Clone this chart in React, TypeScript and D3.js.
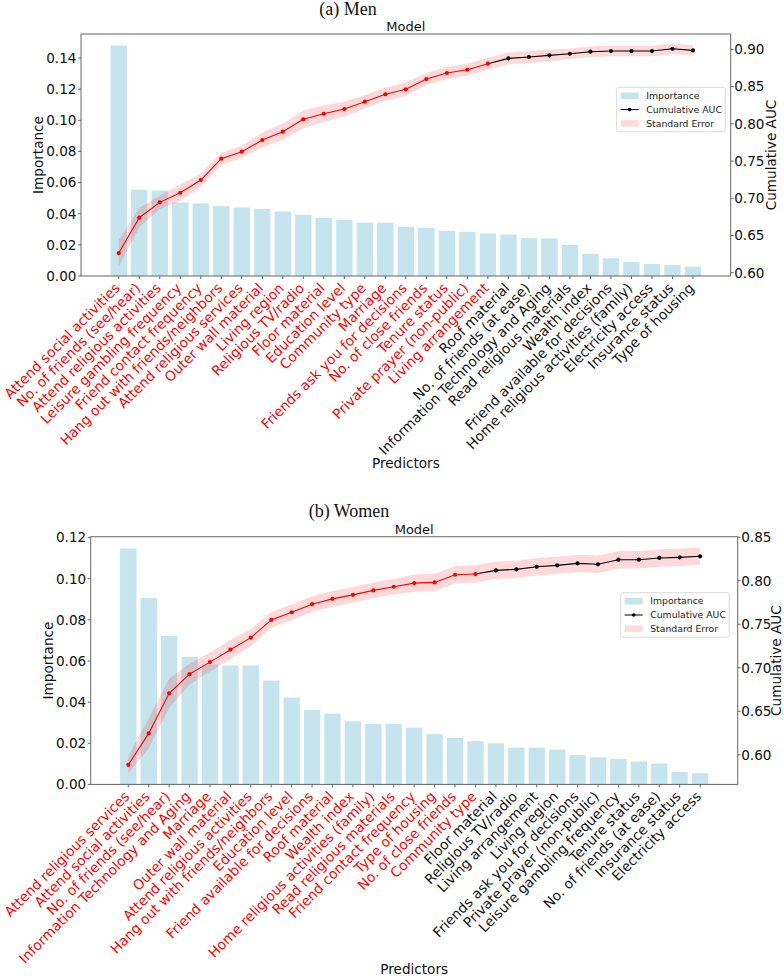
import React from "react";
import * as d3 from "d3";

// Men: predictors ordered by importance
const menPredictors = [
  "Attend social activities",
  "No. of friends (see/hear)",
  "Attend religious activities",
  "Leisure gambling frequency",
  "Friend contact frequency",
  "Hang out with friends/neighbors",
  "Attend religious services",
  "Outer wall material",
  "Living region",
  "Religious TV/radio",
  "Floor material",
  "Education level",
  "Community type",
  "Marriage",
  "Friends ask you for decisions",
  "No. of close friends",
  "Tenure status",
  "Private prayer (non-public)",
  "Living arrangement",
  "Roof material",
  "No. of friends (at ease)",
  "Information Technology and Aging",
  "Read religious materials",
  "Wealth index",
  "Friend available for decisions",
  "Home religious activities (family)",
  "Electricity access",
  "Insurance status",
  "Type of housing",
];
const menImportance = [
  0.148, 0.0554, 0.0549, 0.0472, 0.0466, 0.0449, 0.044, 0.043, 0.0414, 0.0393,
  0.0372, 0.0361, 0.0343, 0.0343, 0.0316, 0.0309, 0.029, 0.0284, 0.0273, 0.0266,
  0.0243, 0.0241, 0.02, 0.0142, 0.0114, 0.009, 0.0077, 0.0071, 0.006,
];
const menAuc = [
  0.6264, 0.6739, 0.6945, 0.7074, 0.7245, 0.7531, 0.7625, 0.7782, 0.7894, 0.806,
  0.8135, 0.8198, 0.8297, 0.8396, 0.8463, 0.8601, 0.8682, 0.8726, 0.8807, 0.8879,
  0.8897, 0.8919, 0.8941, 0.8968, 0.8977, 0.8977, 0.8977, 0.9008, 0.8986,
];
const menSe = [
  0.018, 0.013, 0.009, 0.011, 0.009, 0.008, 0.008, 0.01, 0.011, 0.012, 0.011,
  0.01, 0.009, 0.009, 0.009, 0.008, 0.008, 0.008, 0.008, 0.008, 0.008, 0.008,
  0.007, 0.007, 0.007, 0.007, 0.007, 0.007, 0.007,
];
const menSignificant = 19;

// Women: predictors ordered by importance
const womenPredictors = [
  "Attend religious services",
  "Attend social activities",
  "No. of friends (see/hear)",
  "Information Technology and Aging",
  "Marriage",
  "Outer wall material",
  "Attend religious activities",
  "Hang out with friends/neighbors",
  "Education level",
  "Friend available for decisions",
  "Roof material",
  "Wealth index",
  "Home religious activities (family)",
  "Read religious materials",
  "Friend contact frequency",
  "Type of housing",
  "No. of close friends",
  "Community type",
  "Floor material",
  "Religious TV/radio",
  "Living arrangement",
  "Living region",
  "Friends ask you for decisions",
  "Private prayer (non-public)",
  "Leisure gambling frequency",
  "Tenure status",
  "No. of friends (at ease)",
  "Insurance status",
  "Electricity access",
];
const womenImportance = [
  0.1147, 0.0906, 0.0722, 0.062, 0.0584, 0.0578, 0.0578, 0.0505, 0.0422, 0.0362,
  0.0344, 0.0307, 0.0294, 0.0294, 0.0276, 0.0244, 0.0226, 0.021, 0.02, 0.0179,
  0.0179, 0.0169, 0.0142, 0.0132, 0.0124, 0.0111, 0.0101, 0.006, 0.0054,
];
const womenAuc = [
  0.5885, 0.6246, 0.6707, 0.6927, 0.7065, 0.7208, 0.7346, 0.755, 0.7638, 0.7731,
  0.7792, 0.7838, 0.7889, 0.7931, 0.7973, 0.7981, 0.8069, 0.8077, 0.8119, 0.8131,
  0.8161, 0.8177, 0.82, 0.8189, 0.8242, 0.8242, 0.8262, 0.8269, 0.8281,
];
const womenSe = [
  0.01, 0.017, 0.017, 0.012, 0.011, 0.011, 0.01, 0.009, 0.009, 0.009, 0.009,
  0.009, 0.009, 0.009, 0.01, 0.01, 0.01, 0.01, 0.01, 0.01, 0.01, 0.01, 0.01,
  0.01, 0.01, 0.01, 0.01, 0.01, 0.01,
];
const womenSignificant = 18;

const menImportanceTicks = [0, 0.02, 0.04, 0.06, 0.08, 0.1, 0.12, 0.14];
const menAucTicks = [0.6, 0.65, 0.7, 0.75, 0.8, 0.85, 0.9];
const womenImportanceTicks = [0, 0.02, 0.04, 0.06, 0.08, 0.1, 0.12];
const womenAucTicks = [0.6, 0.65, 0.7, 0.75, 0.8, 0.85];

const SANS = "DejaVu Sans, sans-serif";
const SERIF = "Liberation Serif, Times New Roman, serif";
const SPINE = "#666";

type PanelProps = {
  title: string;
  predictors: string[];
  importance: number[];
  auc: number[];
  se: number[];
  significant: number;
  importanceTicks: number[];
  aucTicks: number[];
  aucDomain: [number, number];
  left: number;
  right: number;
  top: number;
  bottom: number;
  titleX: number;
  titleY: number;
  yLabelX: number;
  aucLabelX: number;
  xLabelY: number;
  legendX: number;
  legendY: number;
};

function Legend({ x, y }: { x: number; y: number }) {
  const rows = ["Importance", "Cumulative AUC", "Standard Error"];
  return (
    <g transform={`translate(${x},${y})`}>
      <rect
        width={108.5}
        height={44.5}
        rx={2}
        fill="#fff"
        fillOpacity={0.8}
        stroke="#d0d0d0"
        strokeWidth={0.8}
      />
      {rows.map((r, i) => {
        const cy = 8.5 + i * 13.8;
        return (
          <g key={r}>
            {i === 0 && (
              <rect x={4} y={cy - 3.3} width={18} height={6.6} fill="#add8e6" fillOpacity={0.7} />
            )}
            {i === 1 && (
              <g>
                <line x1={4} x2={22} y1={cy} y2={cy} stroke="#000" strokeWidth={1} />
                <circle cx={13} cy={cy} r={1.8} fill="#000" />
              </g>
            )}
            {i === 2 && (
              <rect x={4} y={cy - 3.3} width={18} height={6.6} fill="red" fillOpacity={0.15} />
            )}
            <text x={29.5} y={cy} dy="0.35em" fontFamily={SANS} fontSize={9.3} fill="#222">
              {r}
            </text>
          </g>
        );
      })}
    </g>
  );
}

function Panel(p: PanelProps) {
  const n = p.predictors.length;
  const x = d3.scaleLinear().domain([-1.84, n - 1 + 1.84]).range([p.left, p.right]);
  const yImp = d3
    .scaleLinear()
    .domain([0, (d3.max(p.importance) as number) * 1.05])
    .range([p.bottom, p.top]);
  const yAuc = d3.scaleLinear().domain(p.aucDomain).range([p.bottom, p.top]);
  const bw = x(0.4) - x(-0.4);

  const idx = d3.range(n);
  const band = d3
    .area<number>()
    .x((i) => x(i))
    .y0((i) => yAuc(p.auc[i] - p.se[i]))
    .y1((i) => yAuc(p.auc[i] + p.se[i]));
  const line = d3
    .line<number>()
    .x((i) => x(i))
    .y((i) => yAuc(p.auc[i]));
  const redIdx = idx.slice(0, p.significant);
  const blackIdx = idx.slice(p.significant - 1);
  const fmt = d3.format(".2f");
  const midX = (p.left + p.right) / 2;
  const midY = (p.top + p.bottom) / 2;

  return (
    <g>
      <text x={p.titleX} y={p.titleY} textAnchor="middle" fontFamily={SERIF} fontSize={18} fill="#111">
        {p.title}
      </text>
      <text x={midX} y={p.top - 3} textAnchor="middle" fontFamily={SANS} fontSize={13} fill="#111">
        Model
      </text>

      {/* importance bars */}
      {idx.map((i) => (
        <rect
          key={i}
          x={x(i) - bw / 2}
          y={yImp(p.importance[i])}
          width={bw}
          height={p.bottom - yImp(p.importance[i])}
          fill="#add8e6"
          fillOpacity={0.7}
        />
      ))}

      {/* cumulative AUC with standard error band */}
      <path d={band(idx) as string} fill="red" fillOpacity={0.15} />
      <path d={line(redIdx) as string} fill="none" stroke="red" strokeWidth={1.1} />
      <path d={line(blackIdx) as string} fill="none" stroke="#000" strokeWidth={1.1} />
      {idx.map((i) => (
        <circle
          key={i}
          cx={x(i)}
          cy={yAuc(p.auc[i])}
          r={2.1}
          fill={i < p.significant ? "red" : "#000"}
        />
      ))}

      {/* frame */}
      <rect
        x={p.left}
        y={p.top}
        width={p.right - p.left}
        height={p.bottom - p.top}
        fill="none"
        stroke={SPINE}
        strokeWidth={1}
      />

      {/* left axis */}
      {p.importanceTicks.map((t) => (
        <g key={t}>
          <line x1={p.left - 3} x2={p.left} y1={yImp(t)} y2={yImp(t)} stroke={SPINE} />
          <text
            x={p.left - 4.5}
            y={yImp(t)}
            dy="0.36em"
            textAnchor="end"
            fontFamily={SANS}
            fontSize={13.6}
            fill="#111"
          >
            {fmt(t)}
          </text>
        </g>
      ))}
      <text
        transform={`translate(${p.yLabelX},${midY}) rotate(-90)`}
        textAnchor="middle"
        dy="0.36em"
        fontFamily={SANS}
        fontSize={13.6}
        fill="#111"
      >
        Importance
      </text>

      {/* right axis */}
      {p.aucTicks.map((t) => (
        <g key={t}>
          <line x1={p.right} x2={p.right + 3} y1={yAuc(t)} y2={yAuc(t)} stroke={SPINE} />
          <text
            x={p.right + 3.5}
            y={yAuc(t)}
            dy="0.36em"
            fontFamily={SANS}
            fontSize={13.6}
            fill="#111"
          >
            {fmt(t)}
          </text>
        </g>
      ))}
      <text
        transform={`translate(${p.aucLabelX},${midY}) rotate(-90)`}
        textAnchor="middle"
        dy="0.36em"
        fontFamily={SANS}
        fontSize={13.6}
        fill="#111"
      >
        Cumulative AUC
      </text>

      {/* predictor labels */}
      {idx.map((i) => (
        <g key={i}>
          <line x1={x(i)} x2={x(i)} y1={p.bottom} y2={p.bottom + 3} stroke={SPINE} />
          <text
            transform={`translate(${x(i) + 2},${p.bottom + 13}) rotate(-45)`}
            textAnchor="end"
            fontFamily={SANS}
            fontSize={13.8}
            fill={i < p.significant ? "red" : "#111"}
          >
            {p.predictors[i]}
          </text>
        </g>
      ))}
      <text
        x={midX}
        y={p.xLabelY}
        dy="0.36em"
        textAnchor="middle"
        fontFamily={SANS}
        fontSize={13.6}
        fill="#111"
      >
        Predictors
      </text>

      <Legend x={p.legendX} y={p.legendY} />
    </g>
  );
}

export default function App() {
  return (
    <svg
      width={784}
      height={978}
      viewBox="0 0 784 978"
      style={{ position: "absolute", left: 0, top: 0, background: "#fff" }}
    >
      <rect width={784} height={978} fill="#fff" />
      <Panel
        title="(a) Men"
        predictors={menPredictors}
        importance={menImportance}
        auc={menAuc}
        se={menSe}
        significant={menSignificant}
        importanceTicks={menImportanceTicks}
        aucTicks={menAucTicks}
        aucDomain={[0.5956, 0.9206]}
        left={81}
        right={730.7}
        top={34}
        bottom={276}
        titleX={348}
        titleY={14.5}
        yLabelX={38}
        aucLabelX={771.5}
        xLabelY={463.3}
        legendX={616.7}
        legendY={87.3}
      />
      <Panel
        title="(b) Women"
        predictors={womenPredictors}
        importance={womenImportance}
        auc={womenAuc}
        se={womenSe}
        significant={womenSignificant}
        importanceTicks={womenImportanceTicks}
        aucTicks={womenAucTicks}
        aucDomain={[0.566, 0.8506]}
        left={90.7}
        right={737.7}
        top={536.7}
        bottom={784.4}
        titleX={349}
        titleY={516.7}
        yLabelX={48.3}
        aucLabelX={776.5}
        xLabelY={969.5}
        legendX={620.7}
        legendY={592.7}
      />
    </svg>
  );
}
